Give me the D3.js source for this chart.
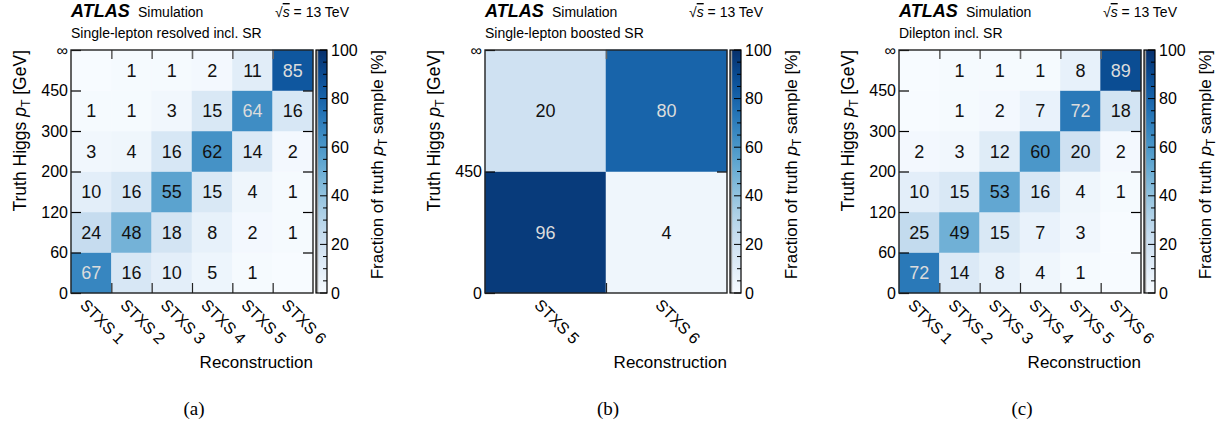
<!DOCTYPE html>
<html><head><meta charset="utf-8">
<script src="https://cdn.jsdelivr.net/npm/d3@7"></script>
<style>
body{margin:0;background:#fff}
svg{display:block}
text{font-family:"Liberation Sans",Arial,Helvetica,sans-serif}
text.cap{font-family:"Liberation Serif","Times New Roman",serif}
</style>
</head><body><svg id="c" width="1226" height="426"></svg>
<script>
// ---------- data ----------
const recoA = ["STXS 1","STXS 2","STXS 3","STXS 4","STXS 5","STXS 6"];
const truthEdgesA = ["0","60","120","200","300","450","∞"];
// rows from lowest truth bin (bottom) to highest (top); null = empty cell
const valuesA = [
  [67,16,10,5,1,null],
  [24,48,18,8,2,1],
  [10,16,55,15,4,1],
  [3,4,16,62,14,2],
  [1,1,3,15,64,16],
  [null,1,1,2,11,85]
];
const regionA = "Single-lepton resolved incl. SR";

const recoB = ["STXS 5","STXS 6"];
const truthEdgesB = ["0","450","∞"];
const valuesB = [
  [96,4],
  [20,80]
];
const regionB = "Single-lepton boosted SR";

const recoC = ["STXS 1","STXS 2","STXS 3","STXS 4","STXS 5","STXS 6"];
const truthEdgesC = ["0","60","120","200","300","450","∞"];
const valuesC = [
  [72,14,8,4,1,null],
  [25,49,15,7,3,null],
  [10,15,53,16,4,1],
  [2,3,12,60,20,2],
  [null,1,2,7,72,18],
  [null,1,1,1,8,89]
];
const regionC = "Dilepton incl. SR";

const colorbarTicks = [0,20,40,60,80,100];
const captions = ["(a)","(b)","(c)"];

// ---------- drawing ----------
const svg = d3.select("#c");
svg.append("rect").attr("width",1226).attr("height",426).attr("fill","#fff");

const PW = 242, PH = 243, TOP = 50;
const color = d3.scaleSequential(d3.interpolateBlues).domain([0,100]);

const defs = svg.append("defs");
const grad = defs.append("linearGradient").attr("id","cbgrad")
  .attr("x1",0).attr("y1",1).attr("x2",0).attr("y2",0);
d3.range(0,101,5).forEach(v=>{
  grad.append("stop").attr("offset",(v/100)).attr("stop-color",color(v));
});

function ptLabel(sel, pre, post, fs){
  sel.append("tspan").text(pre);
  sel.append("tspan").attr("font-style","italic").text("p");
  sel.append("tspan").attr("font-size",fs*0.7).attr("dy",fs*0.22).text("T");
  sel.append("tspan").attr("dy",-fs*0.22).text(post);
}

function drawPanel(idx, reco, edges, values, region, caption){
  const left = 71 + 414*idx;
  const g = svg.append("g").attr("transform",`translate(${left},${TOP})`);
  const n = reco.length, m = edges.length-1;

  const x = d3.scaleBand().domain(reco).range([0,PW]);
  const xl = d3.scaleLinear().domain([0,n]).range([0,PW]);
  const y = d3.scaleLinear().domain([0,m]).range([PH,0]);

  const cells = [];
  values.forEach((row,r)=>row.forEach((v,c)=>cells.push({r,c,v})));

  g.selectAll("rect.cell").data(cells).enter().append("rect")
    .attr("class","cell")
    .attr("x",d=>x(reco[d.c]))
    .attr("y",d=>y(d.r+1))
    .attr("width",x.bandwidth())
    .attr("height",d=>y(d.r)-y(d.r+1))
    .attr("fill",d=>color(d.v==null?0:d.v))
    .attr("stroke",d=>color(d.v==null?0:d.v))
    .attr("stroke-width",0.5);

  g.selectAll("text.val").data(cells.filter(d=>d.v!=null)).enter().append("text")
    .attr("class","val")
    .attr("x",d=>x(reco[d.c])+x.bandwidth()/2)
    .attr("y",d=>(y(d.r)+y(d.r+1))/2)
    .attr("dy","0.36em")
    .attr("text-anchor","middle")
    .attr("font-size",18)
    .attr("fill",d=>d.v>=63?"#dcdcdc":"#111")
    .text(d=>d.v);

  // x ticks (top and bottom, inward)
  const xb = g.append("g").attr("transform",`translate(0,${PH})`)
    .call(d3.axisBottom(xl).tickValues(d3.range(1,n)).tickSize(-10).tickFormat(""));
  const xt = g.append("g")
    .call(d3.axisTop(xl).tickValues(d3.range(1,n)).tickSize(-9).tickFormat(""));
  [xb,xt].forEach(a=>{a.select(".domain").remove();});
  xb.selectAll(".tick line").attr("stroke","#222").attr("stroke-width",1.2);
  xt.selectAll(".tick line").attr("stroke","#666").attr("stroke-width",1.6);

  // y axis
  const yl = g.append("g")
    .call(d3.axisLeft(y).tickValues(d3.range(m+1)).tickFormat(i=>edges[i]).tickSize(-10).tickPadding(3));
  yl.select(".domain").remove();
  yl.selectAll(".tick line").attr("stroke","#000").attr("stroke-width",1.2);
  yl.selectAll(".tick text").attr("font-size",16).attr("fill","#000");
  const yr = g.append("g").attr("transform",`translate(${PW},0)`)
    .call(d3.axisRight(y).tickValues(d3.range(1,m)).tickSize(-10).tickFormat(""));
  yr.select(".domain").remove();
  yr.selectAll(".tick line").attr("stroke","#000").attr("stroke-width",1.2);

  // frame
  g.append("rect").attr("width",PW).attr("height",PH)
    .attr("fill","none").attr("stroke","#222").attr("stroke-width",1.4);

  // x tick labels rotated
  g.selectAll("text.xl").data(reco).enter().append("text")
    .attr("class","xl")
    .attr("transform",d=>`translate(${x(d)+x.bandwidth()/2-12},${PH+13}) rotate(45)`)
    .attr("font-size",16).attr("fill","#000")
    .text(d=>d);

  // axis titles
  g.append("text").attr("x",PW).attr("y",318).attr("text-anchor","end")
    .attr("font-size",17).text("Reconstruction");
  const yt = g.append("text").attr("transform","translate(-45,0) rotate(-90)")
    .attr("text-anchor","end").attr("font-size",17.5);
  ptLabel(yt,"Truth Higgs ", " [GeV]",17.5);

  // colorbar
  const bx = PW+3, bw = 11;
  const cs = d3.scaleLinear().domain([0,100]).range([PH,0]);
  g.append("rect").attr("x",bx).attr("y",0).attr("width",bw).attr("height",PH)
    .attr("fill","url(#cbgrad)");
  g.append("rect").attr("x",bx).attr("y",0).attr("width",2.2).attr("height",PH)
    .attr("fill","#9a9a9a");
  g.append("rect").attr("x",bx).attr("y",0).attr("width",bw).attr("height",PH)
    .attr("fill","none").attr("stroke","#000").attr("stroke-width",1.2);
  const minor = d3.range(0,101,5);
  g.selectAll("line.cbt").data(minor).enter().append("line")
    .attr("class","cbt")
    .attr("x1",d=>bx+bw-(colorbarTicks.includes(d)?7:4)).attr("x2",bx+bw)
    .attr("y1",d=>cs(d)).attr("y2",d=>cs(d))
    .attr("stroke","#000").attr("stroke-width",1);
  const ca = g.append("g").attr("transform",`translate(${bx+bw},0)`)
    .call(d3.axisRight(cs).tickValues(colorbarTicks).tickSize(0).tickPadding(4));
  ca.select(".domain").remove();
  ca.selectAll(".tick text").attr("font-size",16).attr("fill","#000");
  const ct = g.append("text").attr("transform",`translate(${PW+70},0) rotate(-90)`)
    .attr("text-anchor","end").attr("font-size",17);
  ptLabel(ct,"Fraction of truth ", " sample [%]",17);

  // header
  g.append("text").attr("x",0).attr("y",-33).attr("font-size",18)
    .attr("font-weight","bold").attr("font-style","italic").text("ATLAS");
  g.append("text").attr("x",67).attr("y",-33).attr("font-size",14).text("Simulation");
  const rs = g.append("text").attr("x",204).attr("y",-33).attr("font-size",14);
  rs.append("tspan").text("√");
  rs.append("tspan").attr("font-style","italic").style("text-decoration","overline").text("s");
  rs.append("tspan").text(" = 13 TeV");
  g.append("text").attr("x",0).attr("y",-12.5).attr("font-size",14).text(region);

  // caption
  g.append("text").attr("class","cap").attr("x",PW/2+2).attr("y",365).attr("text-anchor","middle")
    .attr("font-size",19)
    .text(caption);
}

drawPanel(0, recoA, truthEdgesA, valuesA, regionA, captions[0]);
drawPanel(1, recoB, truthEdgesB, valuesB, regionB, captions[1]);
drawPanel(2, recoC, truthEdgesC, valuesC, regionC, captions[2]);
</script>
</body></html>
